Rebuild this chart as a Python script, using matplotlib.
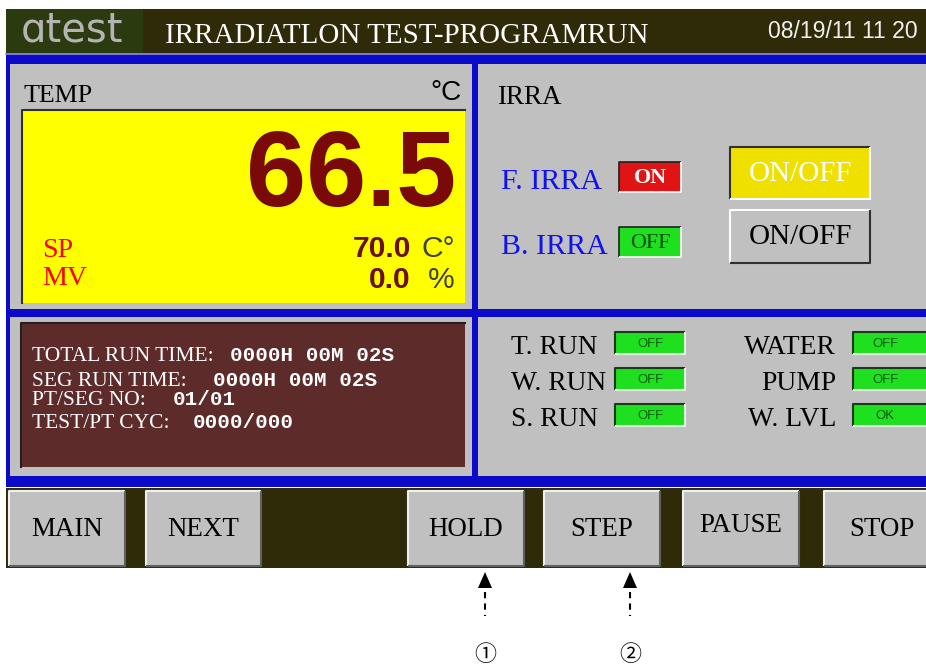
import matplotlib.pyplot as plt
from matplotlib.patches import Rectangle, Polygon

# screen values
title = "IRRADIATLON TEST-PROGRAMRUN"
date_str = "08/19/11 11 20"
temp_pv = "66.5"
temp_sp = "70.0"
temp_mv = "0.0"
irra_labels = ["F. IRRA", "B. IRRA"]
irra_states = ["ON", "OFF"]
run_labels = ["TOTAL RUN TIME:", "SEG RUN TIME:", "PT/SEG NO:", "TEST/PT CYC:"]
run_values = ["0000H 00M 02S", "0000H 00M 02S", "01/01", "0000/000"]
left_status = ["T. RUN", "W. RUN", "S. RUN"]
left_states = ["OFF", "OFF", "OFF"]
right_status = ["WATER", "PUMP", "W. LVL"]
right_states = ["OFF", "OFF", "OK"]
buttons = ["MAIN", "NEXT", "HOLD", "STEP", "PAUSE", "STOP"]
markers = ["\u2460", "\u2461"]  # under HOLD and STEP

SERIF = "Liberation Serif"
SANS = "Liberation Sans"

GRAY = "#c0c0c0"
BLUE = "#0a0ac8"
OLIVE = "#2f2a08"
BROWN = "#5e2b2b"
GREEN = "#1fe01f"

fig = plt.figure(figsize=(9.26, 6.66), dpi=100)
ax = fig.add_axes([0, 0, 1, 1])
ax.set_xlim(0, 926)
ax.set_ylim(666, 0)
ax.axis("off")


def box(x0, y0, x1, y1, color, **kw):
    ax.add_patch(Rectangle((x0, y0), x1 - x0, y1 - y0, facecolor=color,
                           edgecolor="none", **kw))


def bevel(x0, y0, x1, y1, light="white", dark="#404040", lw=1.5):
    ax.plot([x0, x0, x1], [y1, y0, y0], color=light, lw=lw, solid_capstyle="butt")
    ax.plot([x0, x1, x1], [y1, y1, y0], color=dark, lw=lw, solid_capstyle="butt")


def pt(px):
    return px * 0.72


# title bar
box(6, 9, 926, 53, OLIVE)
box(6, 9, 143, 53, "#2c3a10")
ax.text(72, 31, "\u0251test", color="#b4b4b4", fontsize=pt(40), family="DejaVu Sans",
        ha="center", va="center")
ax.text(165, 43, title, color="white", fontsize=pt(29), family=SERIF, va="baseline")
ax.text(918, 38, date_str, color="#f0f0f0", fontsize=pt(23), family=SANS,
        ha="right", va="baseline")

# blue frame
box(6, 53, 926, 487, BLUE)
ax.plot([6, 926], [54, 54], color="#9090e0", lw=1.2)

# TEMP panel
box(10, 64, 472, 309, GRAY)
box(22, 110, 465, 303, "#ffff00")
ax.plot([22, 22, 465], [303, 110, 110], color="#303030", lw=1.5)
ax.text(24, 102, "TEMP", color="black", fontsize=pt(26), family=SERIF, va="baseline")
ax.text(462, 100, "\u00b0C", color="black", fontsize=pt(28), family=SANS,
        ha="right", va="baseline")
ax.text(456, 206, temp_pv, color="#7a0a0a", fontsize=pt(108), family=SANS,
        fontweight="bold", ha="right", va="baseline")
ax.text(411, 257, temp_sp, color="#6a1010", fontsize=pt(30), family=SANS,
        fontweight="bold", ha="right", va="baseline")
ax.text(455, 257, "C\u00b0", color="#404040", fontsize=pt(30), family=SANS,
        ha="right", va="baseline")
ax.text(411, 288, temp_mv, color="#6a1010", fontsize=pt(30), family=SANS,
        fontweight="bold", ha="right", va="baseline")
ax.text(455, 288, "%", color="#404040", fontsize=pt(30), family=SANS,
        ha="right", va="baseline")
ax.text(42, 257, "SP", color="red", fontsize=pt(28), family=SERIF, va="baseline")
ax.text(42, 285, "MV", color="red", fontsize=pt(28), family=SERIF, va="baseline")

# IRRA panel
box(478, 64, 926, 309, GRAY)
ax.text(497, 104, "IRRA", color="black", fontsize=pt(27), family=SERIF, va="baseline")
irra_y = [177, 242]
irra_fill = {"ON": "#e01414", "OFF": GREEN}
irra_txt = {"ON": "white", "OFF": "#0a4a0a"}
for lab, st, yc in zip(irra_labels, irra_states, irra_y):
    ax.text(501, yc + 12, lab, color="#1010f0", fontsize=pt(30), family=SERIF,
            va="baseline")
    box(619, yc - 15, 681, yc + 15, irra_fill[st])
    bevel(619, yc - 15, 681, yc + 15, light="#202020", dark="white", lw=1.2)
    ax.text(650, yc + 1, st, color=irra_txt[st], fontsize=pt(22), family=SERIF,
            fontweight="bold" if st == "ON" else "normal", ha="center", va="center")

box(730, 147, 870, 199, "#f0e000")
bevel(730, 147, 870, 199, light="#303030", dark="white", lw=1.5)
ax.text(800, 174, "ON/OFF", color="white", fontsize=pt(29), family=SERIF,
        ha="center", va="center")
bevel(730, 210, 870, 263, light="white", dark="#303030", lw=1.5)
ax.text(800, 237, "ON/OFF", color="black", fontsize=pt(29), family=SERIF,
        ha="center", va="center")

# run-time panel
box(10, 317, 472, 476, GRAY)
box(21, 323, 465, 467, BROWN)
ax.plot([21, 21, 465], [467, 323, 323], color="#202020", lw=1.5)
run_base = [361, 386, 405, 428]
run_vx = [230, 213, 173, 193]
for lab, val, yb, vx in zip(run_labels, run_values, run_base, run_vx):
    ax.text(32, yb, lab, color="white", fontsize=pt(21.5), family=SERIF, va="baseline")
    ax.text(vx, yb, val, color="white", fontsize=pt(21), family="Liberation Mono",
            fontweight="bold", va="baseline")

# status panel
box(478, 317, 926, 476, GRAY)
rows_top = [332, 368, 404]
for lab, st, yt in zip(left_status, left_states, rows_top):
    ax.text(511, yt + 22, lab, color="black", fontsize=pt(27.5), family=SERIF,
            va="baseline")
    box(615, yt, 685, yt + 22, GREEN)
    bevel(615, yt, 685, yt + 22, light="#1a3a1a", dark="#e0ffe0", lw=1.5)
    ax.text(650, yt + 12, st, color="#0a5a0a", fontsize=pt(13), family=SANS,
            ha="center", va="center")
for lab, st, yt in zip(right_status, right_states, rows_top):
    ax.text(836, yt + 22, lab, color="black", fontsize=pt(27.5), family=SERIF,
            ha="right", va="baseline")
    box(853, yt, 930, yt + 22, GREEN)
    bevel(853, yt, 930, yt + 22, light="#1a3a1a", dark="#e0ffe0", lw=1.5)
    ax.text(885, yt + 12, st, color="#0a5a0a", fontsize=pt(13), family=SANS,
            ha="center", va="center")

# button bar
box(6, 488, 926, 568, OLIVE)
btn_x = [(9, 125), (146, 261), (408, 524), (544, 660), (683, 799), (824, 940)]
for lab, (x0, x1) in zip(buttons, btn_x):
    box(x0, 491, x1, 566, GRAY)
    bevel(x0, 491, x1, 566, light="#f0f0f0", dark="#606060", lw=1.5)
    yc = 525 if lab == "PAUSE" else 529
    ax.text((x0 + x1) / 2, yc, lab, color="black", fontsize=pt(27), family=SERIF,
            ha="center", va="center")

# arrows and markers under HOLD / STEP
for xm, m in zip([485, 630], markers):
    ax.add_patch(Polygon([[xm, 572], [xm - 7, 588], [xm + 7, 588]], closed=True,
                         facecolor="black", edgecolor="none"))
    ax.plot([xm, xm], [592, 616], color="black", lw=1.5, linestyle=(0, (3, 2.5)))
    ax.text(xm, 661, m, color="black", fontsize=pt(22),
            family=["Noto Sans CJK SC", "DejaVu Sans"], ha="center", va="baseline")

fig.savefig("out.png", dpi=100, facecolor="white")
